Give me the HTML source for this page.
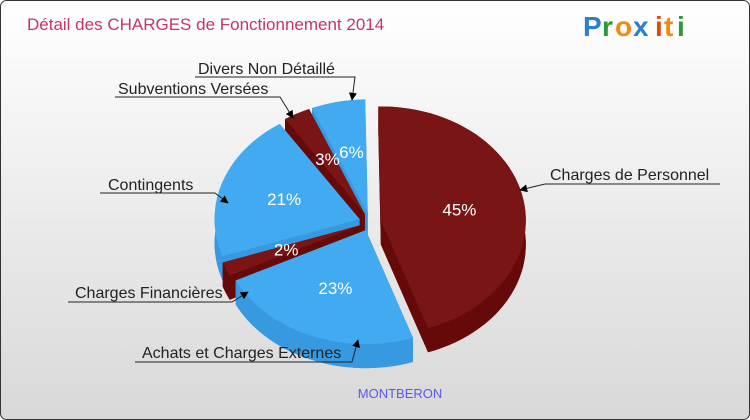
<!DOCTYPE html>
<html><head><meta charset="utf-8"><style>
body{margin:0;width:750px;height:420px;overflow:hidden;font-family:"Liberation Sans","DejaVu Sans",sans-serif}
svg{display:block}
</style></head><body>
<svg id="chart" width="750" height="420" viewBox="0 0 750 420">
<defs>
<linearGradient id="bg" x1="0" y1="0" x2="0" y2="1"><stop offset="0" stop-color="#ffffff"/><stop offset="1" stop-color="#d8d8d8"/></linearGradient>
<marker id="ar" viewBox="0 0 10 10" refX="9" refY="5" markerWidth="8" markerHeight="8" orient="auto"><path d="M0,0L10,5L0,10z" fill="#000"/></marker>
</defs>
<rect x="0.5" y="0.5" width="749" height="419" rx="6" fill="url(#bg)" stroke="#333"/>
<text x="27" y="30" font-size="17" fill="#c8336a">Détail des CHARGES de Fonctionnement 2014</text>
<g font-size="28" font-weight="bold">
<text x="583" y="36" fill="#2a7fd0">P</text><text x="602" y="36" fill="#2a9a3a">r</text><text x="615" y="36" fill="#f08a10">o</text><text x="633" y="36" fill="#2a7fd0">x</text><text x="655" y="36" fill="#e04a10">i</text><text x="664" y="36" fill="#f08a10">t</text><text x="677" y="36" fill="#2a9a3a">i</text>
</g>
<g id="slices"></g>
<g id="labels"></g>
<text x="400" y="398" font-size="13" fill="#5a5ae8" text-anchor="middle">MONTBERON</text>
</svg>
<script>
const categories=["Charges de Personnel","Achats et Charges Externes","Charges Financières","Contingents","Subventions Versées","Divers Non Détaillé"];
const values=[45,23,2,21,3,6];
const pctLabels=["45%","23%","2%","21%","3%","6%"];
const colors=["#7a1515","#42aaf0","#7a1515","#42aaf0","#7a1515","#42aaf0"];
const sideColors=["#650909","#379ae0","#650909","#379ae0","#650909","#379ae0"];
const NS="http://www.w3.org/2000/svg";
const cx=370,cy=222,rx=145,ry=114,depth=24,explode=11,start=-91;
const total=values.reduce((a,b)=>a+b,0);
const g=document.getElementById('slices');
function mk(tag,attrs){const e=document.createElementNS(NS,tag);for(const k in attrs)e.setAttribute(k,attrs[k]);return e;}
const rad=d=>d*Math.PI/180;
let a=start;const sl=[];
values.forEach((v,i)=>{const span=v/total*360;const a0=a,a1=a+span;a=a1;const mid=(a0+a1)/2;
 const ox=explode*Math.cos(rad(mid)),oy=explode*0.8*Math.sin(rad(mid));
 sl.push({i,a0,a1,mid,x:cx+ox,y:cy+oy});});
const P=(s,t,dy)=>[s.x+rx*Math.cos(rad(t)),s.y+ry*Math.sin(rad(t))+dy];
function arcPath(s,dy){let d=`M${s.x},${s.y+dy}`;const n=Math.max(4,Math.ceil((s.a1-s.a0)/3));
 for(let k=0;k<=n;k++){const p=P(s,s.a0+(s.a1-s.a0)*k/n,dy);d+=`L${p[0].toFixed(1)},${p[1].toFixed(1)}`;}return d+'Z';}
function wall(s){const n=Math.max(4,Math.ceil((s.a1-s.a0)/3));let top=[],bot=[];
 for(let k=0;k<=n;k++){const t=s.a0+(s.a1-s.a0)*k/n;top.push(P(s,t,0));bot.push(P(s,t,depth));}
 return 'M'+top.map(p=>p.map(c=>c.toFixed(1)).join(',')).join('L')+'L'+bot.reverse().map(p=>p.map(c=>c.toFixed(1)).join(',')).join('L')+'Z';}
function radial(s,t){const p=P(s,t,0);return `M${s.x},${s.y}L${p[0]},${p[1]}L${p[0]},${p[1]+depth}L${s.x},${s.y+depth}Z`;}
const order=sl.slice().sort((p,q)=>Math.sin(rad(p.mid))-Math.sin(rad(q.mid)));
order.forEach(s=>{
 const grp=mk('g',{});
 
 
 const sc=sideColors[s.i];
 grp.appendChild(mk('path',{d:arcPath(s,depth),fill:sc}));
 grp.appendChild(mk('path',{d:radial(s,s.a0),fill:sc}));
 grp.appendChild(mk('path',{d:radial(s,s.a1),fill:sc}));
 grp.appendChild(mk('path',{d:wall(s),fill:sc}));
 grp.appendChild(mk('path',{d:arcPath(s,0),fill:colors[s.i]}));
 g.appendChild(grp);});
sl.forEach(s=>{const t=mk('text',{x:(s.x+rx*0.55*Math.cos(rad(s.mid))).toFixed(1),y:(s.y+ry*0.55*Math.sin(rad(s.mid))+6).toFixed(1),'font-size':17,fill:'#fff','text-anchor':'middle'});
 
 
 t.textContent=pctLabels[s.i];g.appendChild(t);});
// leader labels: [text x, text y, line x1, line x2, line y, arrow x, arrow y]
const callouts=[[550,180,545,720,184,520,190],[142,358,135,352,362,358,340],[75,298,68,232,302,248,292],[108,190,100,215,193,228,203],[118,94,115,280,97,293,118],[198,74,195,355,77,352,100]];
const L=document.getElementById('labels');
callouts.forEach((c,i)=>{
 const t=mk('text',{x:c[0],y:c[1],'font-size':16,fill:'#222'});
 
 
 t.textContent=categories[i];L.appendChild(t);
 const near=Math.abs(c[5]-c[3])<Math.abs(c[5]-c[2])?c[3]:c[2];
 const far=near===c[3]?c[2]:c[3];
 const p=mk('path',{d:`M${far},${c[4]}L${near},${c[4]}L${c[5]},${c[6]}`,fill:'none',stroke:'#222','stroke-width':1,'marker-end':'url(#ar)'});
 
 
 L.appendChild(p);});
</script>
</body></html>
